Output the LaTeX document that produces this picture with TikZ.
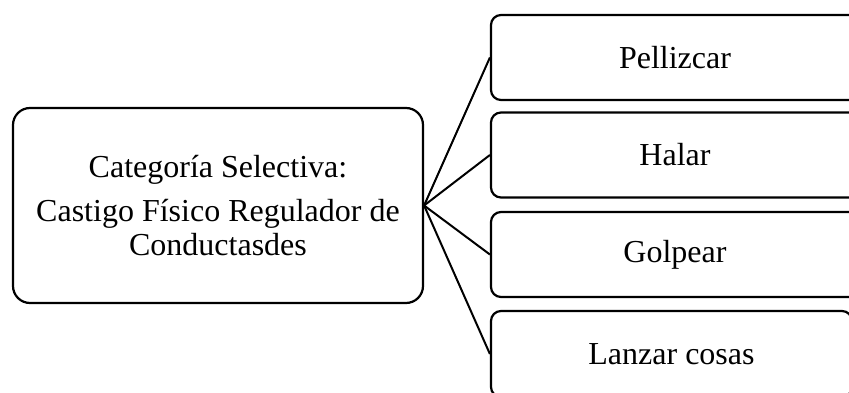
\documentclass[tikz,border=0pt]{standalone}
\usepackage{fontspec}
\setmainfont{Liberation Serif}
\usetikzlibrary{positioning}
\tikzset{
    catbox/.style = {
        draw,
        shape=rectangle,
        rounded corners=17pt,
        minimum width=410pt,
        minimum height=195pt,
        align=center,
        line width=2.2pt,
        font=\fontsize{32}{34}\selectfont
    },
    itembox/.style = {
        draw,
        shape=rectangle,
        rounded corners=10pt,
        minimum width=368pt,
        minimum height=85pt,
        line width=2.2pt,
        font=\fontsize{32}{34}\selectfont
    },
    link/.style = {
        line width=2pt
    },
}

\begin{document}
\begin{tikzpicture}[x=1pt, y=-1pt]
            \useasboundingbox (0,0) rectangle (849,393);
            \clip (0,0) rectangle (849,393);

            \node[catbox] (cat) at (218,205.5) {Categoría Selectiva:\\[10pt]
            Castigo Físico Regulador de\\Conductasdes};
            \node[itembox] (pell) at (675,57.5) {Pellizcar};
            \node[itembox] (halar) at (675,155) {Halar};
            \node[itembox] (golp) at (675,254.5) {Golpear};
            \node[itembox, minimum width=361pt, minimum height=86pt]
            (lanz) at (671.5,354) {Lanzar cosas};

            \path[draw, link] (cat.east) -- (pell.west);
            \path[draw, link] (cat.east) -- (halar.west);
            \path[draw, link] (cat.east) -- (golp.west);
            \path[draw, link] (cat.east) -- (lanz.west);
        \end{tikzpicture}
\end{document}
